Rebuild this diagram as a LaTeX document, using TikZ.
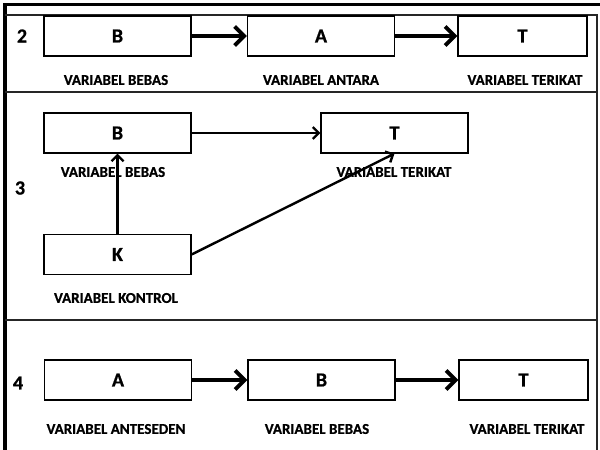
\documentclass[tikz,border=0pt]{standalone}
\usepackage{fontspec}
\setmainfont{Carlito}[BoldFeatures={FakeBold=0.8}]
\usetikzlibrary{arrows.meta}
\begin{document}
\begin{tikzpicture}[x=1pt,y=-1pt,
  vbox/.style={draw,line width=1.1pt,fill=white,minimum width=147pt,minimum height=40pt,inner sep=0pt,font=\bfseries\fontsize{20}{22}\selectfont},
  vlabel/.style={font=\bfseries\fontsize{15}{17}\selectfont,inner sep=0pt},
  num/.style={font=\bfseries\fontsize{20}{22}\selectfont,inner sep=0pt},
  bigarrow/.style={line width=4pt,-{Straight Barb[length=9.5pt,width=19pt,line width=4pt]}},
  thinarrow/.style={line width=2.4pt,-{Straight Barb[length=6pt,width=12pt,line width=2.4pt]}},
  frame/.style={line width=1.8pt,draw=black!85}]
\useasboundingbox (0,0) rectangle (600,450);
% frame
\draw[line width=3.2pt] (5,4.5) -- (600,4.5);
\draw[line width=3.2pt] (5,3) -- (5,450);
\draw[frame] (5,15) -- (597,15) -- (597,320);
\draw[frame] (5,92) -- (597,92);
\draw[frame] (5,320) -- (597,320) -- (597,450);
% panel 2
\node[num] (n2) at (22,36) {2};
\node[vbox] (b2) at (117.5,36) {B};
\node[vbox] (a2) at (321,36) {A};
\node[vbox,minimum width=129pt] (t2) at (522.5,36) {T};
\node[vlabel] (lb2) at (116,80) {VARIABEL BEBAS};
\node[vlabel] (la2) at (321,80) {VARIABEL ANTARA};
\node[vlabel] (lt2) at (525,80) {VARIABEL TERIKAT};
\draw[bigarrow] (b2) -- (a2);
\draw[bigarrow] (a2) -- (t2);
% panel 3
\node[num] (n3) at (20,188) {3};
\node[vbox] (b3) at (117.5,133) {B};
\node[vbox] (t3) at (394.5,133) {T};
\node[vbox] (k3) at (117.5,254.5) {K};
\node[vlabel] (lb3) at (113,172) {VARIABEL BEBAS};
\node[vlabel] (lt3) at (394,172) {VARIABEL TERIKAT};
\node[vlabel] (lk3) at (116,298) {VARIABEL KONTROL};
\draw[thinarrow] (b3) -- (t3);
\draw[thinarrow] (k3) -- (b3);
\draw[thinarrow] (k3.east) -- (t3.south);
% panel 4
\node[num] (n4) at (18,383) {4};
\node[vbox] (a4) at (118,380) {A};
\node[vbox] (b4) at (321.5,380) {B};
\node[vbox,minimum width=129pt] (t4) at (523.5,380) {T};
\node[vlabel] (la4) at (116,429) {VARIABEL ANTESEDEN};
\node[vlabel] (lb4) at (317,429) {VARIABEL BEBAS};
\node[vlabel] (lt4) at (527,429) {VARIABEL TERIKAT};
\draw[bigarrow] (a4) -- (b4);
\draw[bigarrow] (b4) -- (t4);
\end{tikzpicture}
\end{document}
